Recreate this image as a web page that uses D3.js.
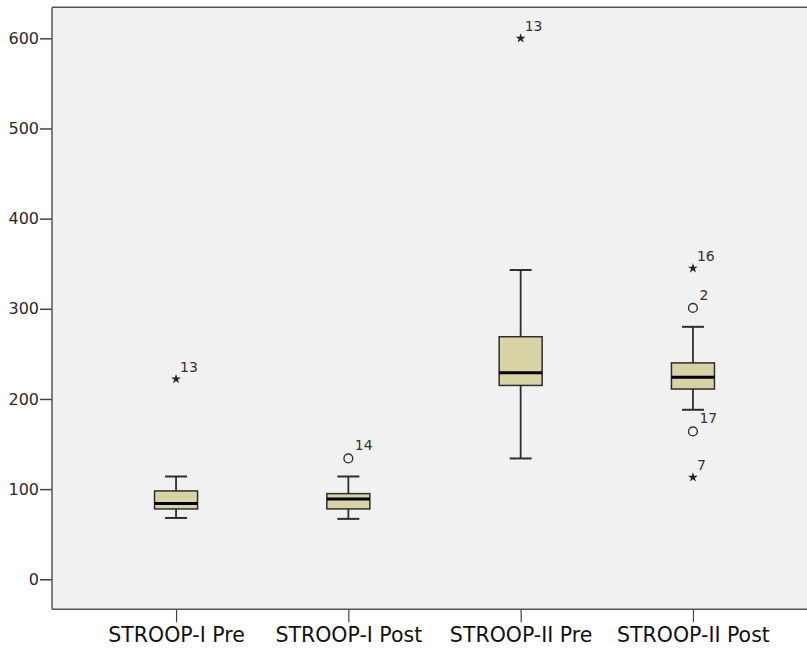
<!DOCTYPE html>
<html>
<head>
<meta charset="utf-8">
<script src="https://cdn.jsdelivr.net/npm/d3@7"></script>
<style>
  html, body { margin: 0; padding: 0; background: #ffffff; }
  svg { display: block; }
</style>
</head>
<body>
<svg id="chart" width="807" height="652"></svg>
<script>
// Box plot summaries for the four STROOP measurements
const categories = ["STROOP-I Pre", "STROOP-I Post", "STROOP-II Pre", "STROOP-II Post"];
const lowerWhisker = [68, 67, 134, 188];
const q1 = [78, 78, 215, 211];
const median = [84, 89, 229, 224];
const q3 = [98, 95, 269, 240];
const upperWhisker = [114, 114, 343, 280];

// Outlying cases: group index, value, case number, kind (mild = circle, extreme = star)
const outlierGroup = [0, 1, 2, 3, 3, 3, 3];
const outlierValue = [222, 134, 600, 345, 301, 164, 113];
const outlierCase = ["13", "14", "13", "16", "2", "17", "7"];
const outlierKind = ["extreme", "mild", "extreme", "extreme", "mild", "mild", "extreme"];

const yTicks = [0, 100, 200, 300, 400, 500, 600];

const svg = d3.select("#chart");
const plotLeft = 52, plotTop = 7.3, plotRight = 817, plotBottom = 609.3;
const font = "'DejaVu Sans', 'Liberation Sans', sans-serif";

const x = d3.scalePoint().domain(categories).range([plotLeft, plotRight]).padding(0.72);
const y = d3.scaleLinear().domain([-33.3, 634.4]).range([plotBottom, plotTop]);

// Plot area background
svg.append("rect")
  .attr("x", plotLeft).attr("y", plotTop)
  .attr("width", 807 - plotLeft).attr("height", plotBottom - plotTop)
  .attr("fill", "#f1f1f1");

// Top frame line
svg.append("line")
  .attr("x1", plotLeft).attr("x2", 807).attr("y1", plotTop).attr("y2", plotTop)
  .attr("stroke", "#555").attr("stroke-width", 1.5);

// Y axis
const yAxis = svg.append("g")
  .attr("transform", `translate(${plotLeft},0)`)
  .call(d3.axisLeft(y).tickValues(yTicks).tickSize(12).tickPadding(1).tickSizeOuter(0));
yAxis.select(".domain").remove();
yAxis.append("line").attr("x1", 0).attr("x2", 0).attr("y1", plotTop).attr("y2", plotBottom)
  .attr("stroke", "#555").attr("stroke-width", 1.5);
yAxis.selectAll(".tick line").attr("stroke", "#444").attr("stroke-width", 1.5);
yAxis.selectAll(".tick text")
  .attr("font-family", font).attr("font-size", 16).attr("fill", "#2a2a2a");

// X axis
const xAxis = svg.append("g")
  .attr("transform", `translate(0,${plotBottom})`)
  .call(d3.axisBottom(x).tickSize(13).tickPadding(5).tickSizeOuter(0));
xAxis.select(".domain").remove();
xAxis.append("line").attr("x1", plotLeft).attr("x2", 807).attr("y1", 0).attr("y2", 0)
  .attr("stroke", "#555").attr("stroke-width", 1.5);
xAxis.selectAll(".tick line").attr("stroke", "#444").attr("stroke-width", 1.2);
xAxis.selectAll(".tick text")
  .attr("font-family", font).attr("font-size", 20.5).attr("fill", "#111");

// Boxes
const boxW = 43, capW = 22;
const lineColor = "#2e2e2e";
const groups = svg.append("g").selectAll("g")
  .data(categories.map((c, i) => ({ c, i })))
  .join("g")
  .attr("transform", d => `translate(${x(d.c)},0)`);

// Whisker stems
groups.append("line")
  .attr("x1", 0).attr("x2", 0)
  .attr("y1", d => y(upperWhisker[d.i])).attr("y2", d => y(q3[d.i]))
  .attr("stroke", lineColor).attr("stroke-width", 1.8);
groups.append("line")
  .attr("x1", 0).attr("x2", 0)
  .attr("y1", d => y(q1[d.i])).attr("y2", d => y(lowerWhisker[d.i]))
  .attr("stroke", lineColor).attr("stroke-width", 1.8);
// Whisker caps
groups.append("line")
  .attr("x1", -capW / 2).attr("x2", capW / 2)
  .attr("y1", d => y(upperWhisker[d.i])).attr("y2", d => y(upperWhisker[d.i]))
  .attr("stroke", lineColor).attr("stroke-width", 2);
groups.append("line")
  .attr("x1", -capW / 2).attr("x2", capW / 2)
  .attr("y1", d => y(lowerWhisker[d.i])).attr("y2", d => y(lowerWhisker[d.i]))
  .attr("stroke", lineColor).attr("stroke-width", 2);
// Interquartile box
groups.append("rect")
  .attr("x", -boxW / 2).attr("width", boxW)
  .attr("y", d => y(q3[d.i]))
  .attr("height", d => y(q1[d.i]) - y(q3[d.i]))
  .attr("fill", "#d8d3a5").attr("stroke", lineColor).attr("stroke-width", 1.5);
// Median
groups.append("line")
  .attr("x1", -boxW / 2).attr("x2", boxW / 2)
  .attr("y1", d => y(median[d.i])).attr("y2", d => y(median[d.i]))
  .attr("stroke", "#000").attr("stroke-width", 3);

// Outliers
const outliers = outlierValue.map((v, k) => ({
  cat: categories[outlierGroup[k]], v, label: outlierCase[k], kind: outlierKind[k]
}));
const og = svg.append("g").selectAll("g")
  .data(outliers)
  .join("g")
  .attr("transform", d => `translate(${x(d.cat)},${y(d.v)})`);

og.filter(d => d.kind === "mild").append("circle")
  .attr("r", 4.4).attr("fill", "none").attr("stroke", "#333").attr("stroke-width", 1.4);
og.filter(d => d.kind === "extreme").append("path")
  .attr("d", d3.symbol(d3.symbolStar, 30))
  .attr("fill", "#222");

og.append("text")
  .attr("x", d => d.kind === "mild" ? 6.5 : 4)
  .attr("y", d => d.kind === "mild" ? -8 : -7)
  .attr("font-family", font).attr("font-size", 14).attr("fill", "#333")
  .text(d => d.label);
</script>
</body>
</html>
